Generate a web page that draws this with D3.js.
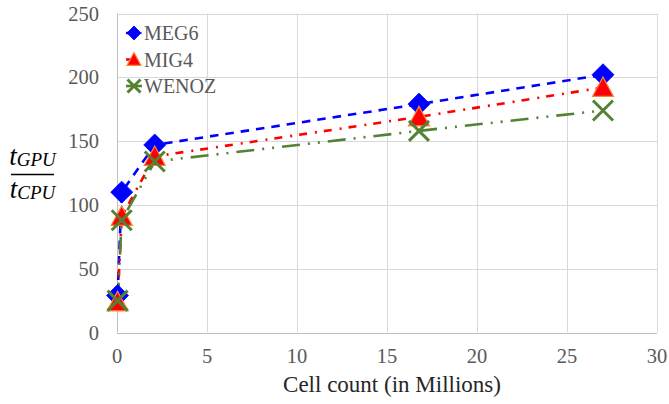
<!DOCTYPE html>
<html>
<head>
<meta charset="utf-8">
<script src="https://cdn.jsdelivr.net/npm/d3@7"></script>
<style>
  html, body { margin: 0; padding: 0; background: #fff; }
  svg { display: block; }
</style>
</head>
<body>
<svg id="chart" width="669" height="404"></svg>
<script>
// Cell counts (millions) and speed-up ratios per scheme
const cellCounts = [0.032768, 0.262144, 2.097152, 16.777216, 27.0];
const meg6 = [29, 110, 147, 179, 202];
const mig4 = [24, 91, 138, 169, 192];
const wenoz = [25, 88, 134, 158, 174];
const xTicks = [0, 5, 10, 15, 20, 25, 30];
const yTicks = [0, 50, 100, 150, 200, 250];

const series = [
  { name: "MEG6", values: meg6, color: "#0000FF", dash: "8.5,7", shape: "diamond" },
  { name: "MIG4", values: mig4, color: "#FF0000", dash: "8,8,2,7", shape: "triangle" },
  { name: "WENOZ", values: wenoz, color: "#548235", dash: "18,8,2,8,2,8", shape: "cross" }
];

const svg = d3.select("#chart");
const x = d3.scaleLinear().domain([0, 30]).range([117, 657]);
const y = d3.scaleLinear().domain([0, 250]).range([332.5, 13.5]);

const font = "'Liberation Serif', 'Times New Roman', serif";
const gridColor = "#D9D9D9";
const textColor = "#595959";

// Gridlines
svg.append("g").selectAll("line.h").data(yTicks).join("line")
  .attr("x1", x(0)).attr("x2", x(30))
  .attr("y1", d => Math.round(y(d)) + 0.5).attr("y2", d => Math.round(y(d)) + 0.5)
  .attr("stroke", gridColor).attr("stroke-width", 1);
svg.append("g").selectAll("line.v").data(xTicks).join("line")
  .attr("x1", d => Math.round(x(d)) + 0.5).attr("x2", d => Math.round(x(d)) + 0.5)
  .attr("y1", y(250)).attr("y2", y(0))
  .attr("stroke", gridColor).attr("stroke-width", 1);

// Axis lines
svg.append("line").attr("x1", Math.round(x(0)) + 0.5).attr("x2", Math.round(x(0)) + 0.5)
  .attr("y1", y(250)).attr("y2", y(0)).attr("stroke", "#BFBFBF");
svg.append("line").attr("x1", x(0)).attr("x2", x(30))
  .attr("y1", Math.round(y(0)) + 0.5).attr("y2", Math.round(y(0)) + 0.5).attr("stroke", "#BFBFBF");

// Tick labels
svg.append("g").selectAll("text").data(yTicks).join("text")
  .attr("x", 99).attr("y", d => y(d)).attr("dy", "0.35em")
  .attr("text-anchor", "end").attr("font-family", font).attr("font-size", 20.5)
  .attr("fill", textColor).text(d => d);
svg.append("g").selectAll("text").data(xTicks).join("text")
  .attr("x", d => x(d)).attr("y", 363)
  .attr("text-anchor", "middle").attr("font-family", font).attr("font-size", 20.5)
  .attr("fill", textColor).text(d => d);

// Axis titles
svg.append("text").attr("x", 392).attr("y", 392).attr("text-anchor", "middle")
  .attr("font-family", font).attr("font-size", 23).attr("fill", "#262626")
  .text("Cell count (in Millions)");

const frac = svg.append("g").attr("font-family", font).attr("font-style", "italic").attr("fill", "#000");
const num = frac.append("text").attr("x", 32.5).attr("y", 165).attr("text-anchor", "middle");
num.append("tspan").attr("font-size", 27).text("t");
num.append("tspan").attr("font-size", 19).attr("dy", 1).text("GPU");
frac.append("line").attr("x1", 11).attr("x2", 54).attr("y1", 174.5).attr("y2", 174.5)
  .attr("stroke", "#000").attr("stroke-width", 1.4);
const den = frac.append("text").attr("x", 32.5).attr("y", 198).attr("text-anchor", "middle");
den.append("tspan").attr("font-size", 27).text("t");
den.append("tspan").attr("font-size", 19).attr("dy", 1).text("CPU");

// Marker path generators
function markerPath(shape, s) {
  if (shape === "diamond") return `M0,${-s}L${s},0L0,${s}L${-s},0Z`;
  if (shape === "triangle") return `M0,${-s}L${s},${s * 0.85}L${-s},${s * 0.85}Z`;
  return `M${-s},${-s}L${s},${s}M${s},${-s}L${-s},${s}`;
}
function drawMarker(g, shape, color, s) {
  if (shape === "cross") {
    g.append("path").attr("d", markerPath(shape, s)).attr("fill", "none")
      .attr("stroke", color).attr("stroke-width", 3);
  } else if (shape === "triangle") {
    g.append("path").attr("d", markerPath(shape, s)).attr("fill", color)
      .attr("stroke", "#F4883A").attr("stroke-width", 1.2);
  } else {
    g.append("path").attr("d", markerPath(shape, s)).attr("fill", color)
      .attr("stroke", color).attr("stroke-width", 0.8);
  }
}

const line = d3.line().x(d => x(d[0])).y(d => y(d[1]));

// Series lines
series.forEach(s => {
  const pts = cellCounts.map((c, i) => [c, s.values[i]]);
  svg.append("path").datum(pts).attr("d", line).attr("fill", "none")
    .attr("stroke", s.color).attr("stroke-width", 2.6).attr("stroke-dasharray", s.dash);
});

// Series markers
const markerSize = { diamond: 11, triangle: 10.5, cross: 10 };
series.forEach(s => {
  cellCounts.forEach((c, i) => {
    const g = svg.append("g").attr("transform", `translate(${x(c)},${y(s.values[i])})`);
    drawMarker(g, s.shape, s.color, markerSize[s.shape]);
  });
});

// Legend
const legend = svg.append("g");
series.forEach((s, i) => {
  const cy = 33 + i * 26.5;
  const g = legend.append("g").attr("transform", `translate(0,${cy})`);
  g.append("line").attr("x1", 126).attr("x2", 142).attr("y1", 0).attr("y2", 0)
    .attr("stroke", s.color).attr("stroke-width", 2.6).attr("stroke-dasharray", s.dash);
  const m = g.append("g").attr("transform", "translate(134,0)");
  drawMarker(m, s.shape, s.color, s.shape === "cross" ? 6.5 : 7);
  g.append("text").attr("x", 144).attr("y", 0).attr("dy", "0.35em")
    .attr("font-family", font).attr("font-size", 20).attr("fill", textColor).text(s.name);
});
</script>
</body>
</html>
